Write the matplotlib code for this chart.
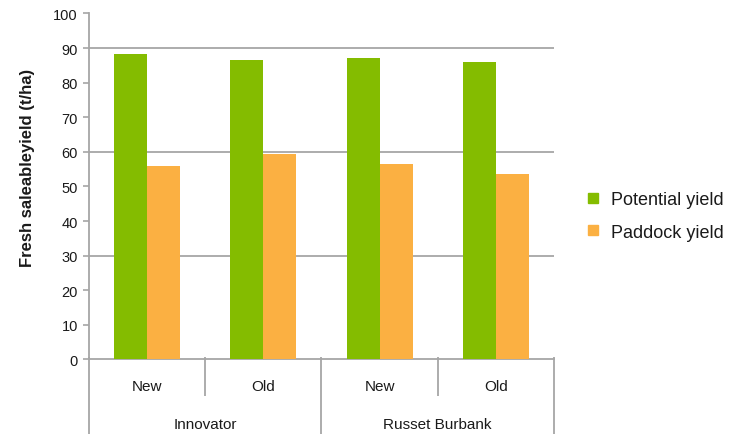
import matplotlib
matplotlib.use("Agg")
import matplotlib.pyplot as plt
from matplotlib.lines import Line2D
import numpy as np

plt.rcParams['font.family'] = ['Liberation Sans', 'DejaVu Sans']

# Data
varieties = ["Innovator", "Russet Burbank"]
seed_age = ["New", "Old", "New", "Old"]
potential_yield = [88.3, 86.6, 87.1, 86.1]
paddock_yield = [55.9, 59.4, 56.5, 53.7]
series_names = ["Potential yield", "Paddock yield"]
y_ticks = list(range(0, 101, 10))
grid_values = [30, 60, 90]

green = "#84BC00"
orange = "#FBB042"
grey = "#A6A6A6"
text_col = "#1a1a1a"

fig = plt.figure(figsize=(7.36, 4.35), dpi=100)
ax = fig.add_axes([0.1209, 0.1713, 0.6318, 0.7954])

x = np.arange(len(seed_age))
w = 0.284
ax.bar(x - w / 2, potential_yield, width=w, color=green, label=series_names[0], zorder=3)
ax.bar(x + w / 2, paddock_yield, width=w, color=orange, label=series_names[1], zorder=3)

ax.set_xlim(-0.5, len(seed_age) - 0.5)
ax.set_ylim(0, 100)
ax.set_yticks(y_ticks)
ax.tick_params(axis='y', direction='out', length=4, width=1.2, color=grey,
               labelsize=10.5, labelcolor=text_col, pad=4)
ax.set_xticks([])

for g in grid_values:
    ax.axhline(g, color=grey, lw=1.3, zorder=1)

for side in ['top', 'right']:
    ax.spines[side].set_visible(False)
for side in ['left', 'bottom']:
    ax.spines[side].set_color(grey)
    ax.spines[side].set_linewidth(1.3)

# Two-level category axis
trans = ax.get_xaxis_transform()
bottom_full = -0.2153
bottom_short = -0.1055
for i in range(len(seed_age) + 1):
    xp = i - 0.5
    y_end = bottom_full if i % 2 == 0 else bottom_short
    ax.plot([xp, xp], [0.008, y_end], transform=trans, color=grey, lw=1.3,
            clip_on=False, zorder=4, solid_capstyle='butt')

for i, lab in enumerate(seed_age):
    ax.text(i, -0.0766, lab, transform=trans, ha='center', va='center',
            fontsize=11, color=text_col)
for j, v in enumerate(varieties):
    ax.text(2 * j + 0.5, -0.1864, v, transform=trans, ha='center', va='center',
            fontsize=11, color=text_col)

fig.text(0.037, 1 - 168 / 435, "Fresh saleableyield (t/ha)", rotation=90,
         ha='center', va='center', fontsize=12, fontweight='bold', color=text_col)

handles = [Line2D([], [], marker='s', color='none', markerfacecolor=c,
                  markeredgecolor=c, markersize=6.5) for c in (green, orange)]
fig.legend(handles, series_names, loc='center left',
           bbox_to_anchor=(0.776, 1 - 217 / 435), frameon=False,
           fontsize=13, handlelength=0.6, handletextpad=0.7,
           labelspacing=0.85, labelcolor=text_col)

fig.savefig("out.png", dpi=100)
